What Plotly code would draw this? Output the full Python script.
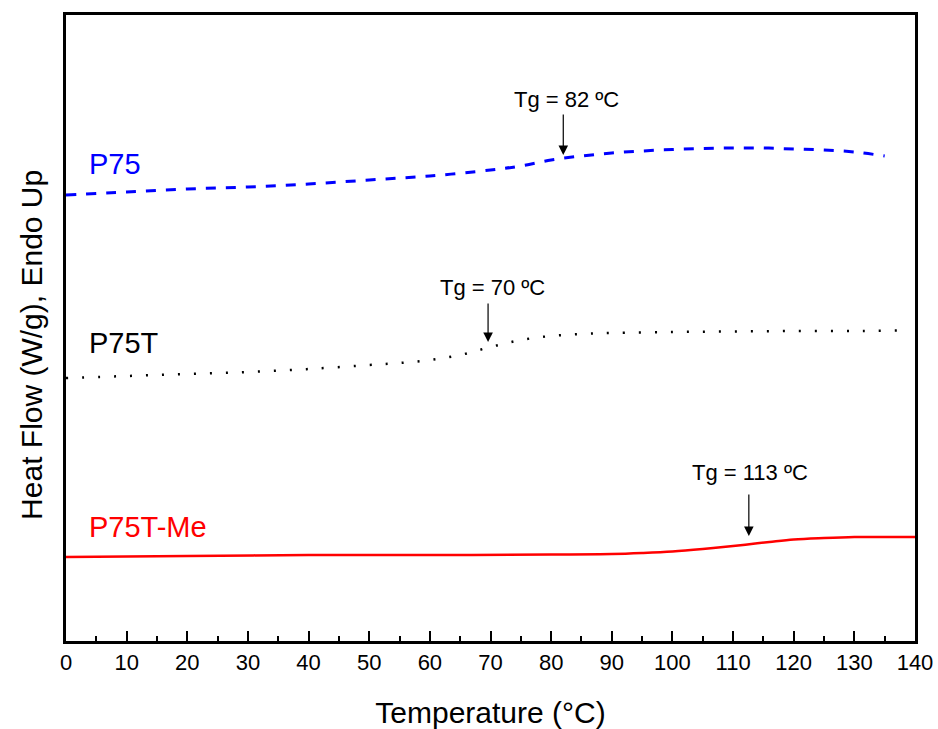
import plotly.graph_objects as go

# Temperature (°C) and heat flow (arbitrary offset units, W/g)
t_p75 = [0, 10, 20, 30, 40, 50, 60, 70, 75, 80, 85, 90, 95, 100, 105, 110, 115, 120, 125, 130, 135]
hf_p75 = [4.46, 4.49, 4.52, 4.54, 4.57, 4.61, 4.65, 4.71, 4.75, 4.81, 4.85, 4.88, 4.90, 4.915,
          4.925, 4.93, 4.93, 4.92, 4.91, 4.89, 4.85]

t_p75t = [0, 10, 20, 30, 40, 50, 55, 60, 65, 70, 75, 80, 85, 90, 100, 110, 120, 130, 137]
hf_p75t = [2.63, 2.65, 2.67, 2.69, 2.72, 2.76, 2.78, 2.81, 2.86, 2.94, 3.01, 3.05, 3.07, 3.08,
           3.09, 3.095, 3.10, 3.10, 3.105]

t_me = [0, 20, 40, 60, 80, 90, 95, 100, 105, 110, 113, 116, 120, 125, 130, 135, 140]
hf_me = [0.84, 0.85, 0.86, 0.86, 0.865, 0.87, 0.88, 0.895, 0.92, 0.95, 0.97, 0.99, 1.015,
         1.03, 1.04, 1.04, 1.04]

series_names = ["P75", "P75T", "P75T-Me"]
series_colors = ["#0000FF", "#000000", "#FF0000"]

tg_values = [82, 70, 113]
tg_labels = ["Tg = 82 ºC", "Tg = 70 ºC", "Tg = 113 ºC"]

x_ticks = list(range(0, 141, 10))

FONT = "Liberation Sans, Arial, sans-serif"

fig = go.Figure()
fig.add_trace(go.Scatter(x=t_p75, y=hf_p75, mode="lines", line_shape="spline",
                         line=dict(color=series_colors[0], width=3, dash="10px,10px"),
                         name=series_names[0]))
fig.add_trace(go.Scatter(x=t_p75t, y=hf_p75t, mode="lines", line_shape="spline",
                         line=dict(color=series_colors[1], width=2.5, dash="2px,14px"),
                         name=series_names[1]))
fig.add_trace(go.Scatter(x=t_me, y=hf_me, mode="lines", line_shape="spline",
                         line=dict(color=series_colors[2], width=2.5),
                         name=series_names[2]))

# series labels
label_pos = [(3.4, 4.77), (3.4, 2.98), (3.4, 1.14)]
for name, col, (lx, ly) in zip(series_names, series_colors, label_pos):
    fig.add_annotation(x=lx, y=ly, text=name, showarrow=False, xanchor="left", yanchor="middle",
                       font=dict(family=FONT, size=29, color=col))

# Tg arrows and labels
arrow_x = [82, 69.6, 112.6]
arrow_head_y = [4.86, 2.99, 1.05]
arrow_len = [-42, -40, -43]
text_pos = [(82.6, 5.42), (70.4, 3.54), (112.8, 1.69)]
for ax_, hy, al, lab, (tx, ty) in zip(arrow_x, arrow_head_y, arrow_len, tg_labels, text_pos):
    fig.add_annotation(x=ax_, y=hy, ax=0, ay=al, text="", showarrow=True,
                       arrowhead=2, arrowsize=1.6, arrowwidth=1.2, arrowcolor="black")
    fig.add_annotation(x=tx, y=ty, text=lab, showarrow=False,
                       font=dict(family=FONT, size=22, color="black"))

# y-axis title (placed slightly below centre, as in the original)
fig.add_annotation(xref="paper", yref="paper", x=0, y=0.473, xshift=-34,
                   text="Heat Flow (W/g), Endo Up", textangle=-90, showarrow=False,
                   xanchor="center", yanchor="middle",
                   font=dict(family=FONT, size=30, color="black"))

fig.update_layout(
    width=938, height=729,
    margin=dict(l=66, r=23, t=15, b=88),
    paper_bgcolor="white", plot_bgcolor="white",
    showlegend=False,
    font=dict(family=FONT, color="black"),
)
fig.update_xaxes(
    range=[0, 140], tickvals=x_ticks, ticktext=[str(v) for v in x_ticks],
    ticks="inside", ticklen=10, tickwidth=1.5, tickcolor="black",
    minor=dict(ticks="inside", ticklen=5, tickwidth=1.5, tickcolor="black", dtick=5),
    showline=True, linewidth=2.5, linecolor="black", mirror=True,
    showgrid=False, zeroline=False, automargin=False,
    tickfont=dict(family=FONT, size=22),
    title=dict(text="Temperature (°C)", font=dict(family=FONT, size=30), standoff=28),
)
fig.update_yaxes(
    range=[0, 6.26], showticklabels=False, ticks="",
    showline=True, linewidth=2.5, linecolor="black", mirror=True,
    showgrid=False, zeroline=False, automargin=False,
)

fig.write_html("out.html")
